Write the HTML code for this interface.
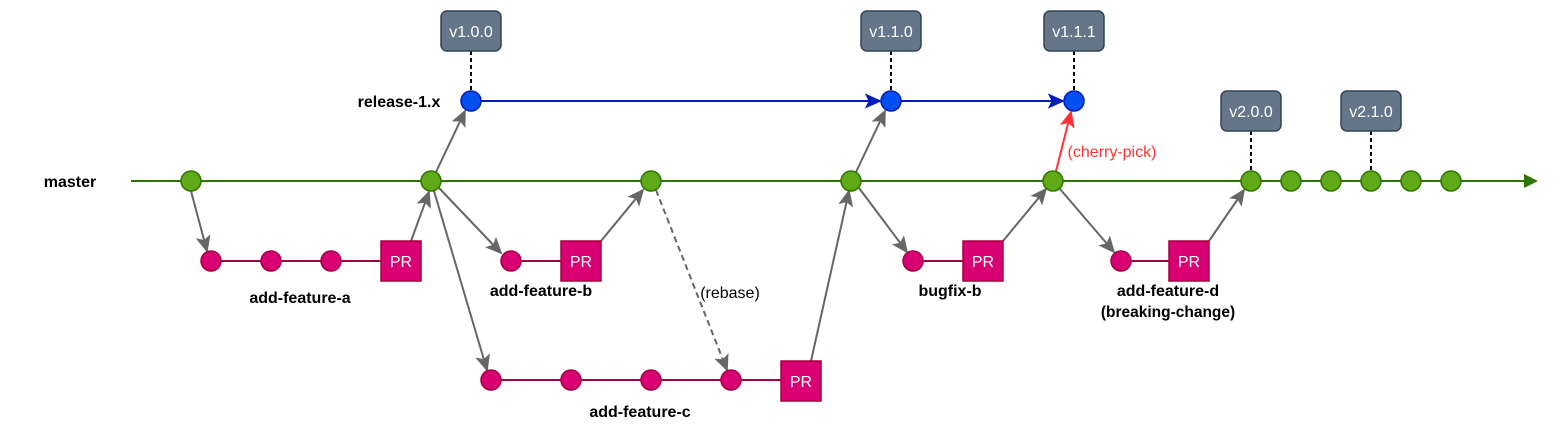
<!DOCTYPE html>
<html><head><meta charset="utf-8"><style>
html,body{margin:0;padding:0;background:#fff;}
svg{display:block;}
text{font-family:"Liberation Sans",Arial,sans-serif;}
.lbl{font-size:16px;font-weight:bold;fill:#000;text-anchor:middle;}
.tag{fill:#647687;stroke:#314354;stroke-width:1.5;}
.tagt{font-size:16px;fill:#fff;text-anchor:middle;}
.g{fill:#60a917;stroke:#2d7600;stroke-width:1.5;}
.b{fill:#0050ef;stroke:#001dbc;stroke-width:1.5;}
.p{fill:#d80073;stroke:#a50040;stroke-width:1.5;}
.pr{font-size:16px;fill:#fff;text-anchor:middle;}
.arr{stroke:#666;stroke-width:2;fill:none;marker-end:url(#ga);}
</style></head><body>
<svg width="1568" height="442" viewBox="0 0 1568 442" xmlns="http://www.w3.org/2000/svg">
<defs>
<marker id="ga" viewBox="0 0 10 10" refX="9" refY="5" markerWidth="19" markerHeight="19" markerUnits="userSpaceOnUse" orient="auto">
<path d="M1,1 L10,5 L1,9 L3,5 z" fill="#666"/></marker>
<marker id="ra" viewBox="0 0 10 10" refX="9" refY="5" markerWidth="19" markerHeight="19" markerUnits="userSpaceOnUse" orient="auto">
<path d="M1,1 L10,5 L1,9 L3,5 z" fill="#ff3333"/></marker>
<marker id="ba" viewBox="0 0 10 10" refX="9" refY="5" markerWidth="19" markerHeight="19" markerUnits="userSpaceOnUse" orient="auto">
<path d="M1,1 L10,5 L1,9 L3,5 z" fill="#001dbc"/></marker>
</defs>

<line x1="131" y1="181" x2="1524" y2="181" stroke="#2d7600" stroke-width="2"/>
<polygon points="1524,174 1538,181 1524,188" fill="#2d7600"/>

<line x1="481" y1="101" x2="880" y2="101" stroke="#001dbc" stroke-width="2" marker-end="url(#ba)"/>
<line x1="901" y1="101" x2="1063" y2="101" stroke="#001dbc" stroke-width="2" marker-end="url(#ba)"/>

<g stroke="#000" stroke-width="2" stroke-dasharray="4,3">
<line x1="471" y1="51" x2="471" y2="91"/>
<line x1="891" y1="51" x2="891" y2="91"/>
<line x1="1074" y1="51" x2="1074" y2="91"/>
<line x1="1251" y1="131" x2="1251" y2="171"/>
<line x1="1371" y1="131" x2="1371" y2="171"/>
</g>

<rect class="tag" x="441" y="11" width="60" height="40" rx="6"/><text class="tagt" x="471" y="37">v1.0.0</text>
<rect class="tag" x="861" y="11" width="60" height="40" rx="6"/><text class="tagt" x="891" y="37">v1.1.0</text>
<rect class="tag" x="1044" y="11" width="60" height="40" rx="6"/><text class="tagt" x="1074" y="37">v1.1.1</text>
<rect class="tag" x="1221" y="91" width="60" height="40" rx="6"/><text class="tagt" x="1251" y="117">v2.0.0</text>
<rect class="tag" x="1341" y="91" width="60" height="40" rx="6"/><text class="tagt" x="1371" y="117">v2.1.0</text>

<g stroke="#a50040" stroke-width="2">
<line x1="211" y1="261" x2="381" y2="261"/>
<line x1="511" y1="261" x2="561" y2="261"/>
<line x1="491" y1="380" x2="781" y2="380"/>
<line x1="913" y1="261" x2="963" y2="261"/>
<line x1="1121" y1="261" x2="1169" y2="261"/>
</g>

<line class="arr" x1="191" y1="191" x2="207" y2="251"/>
<line class="arr" x1="411" y1="241" x2="429" y2="192"/>
<line class="arr" x1="436" y1="172" x2="465" y2="111"/>
<line class="arr" x1="439" y1="188" x2="501" y2="253"/>
<line class="arr" x1="601" y1="241" x2="643" y2="190"/>
<line class="arr" x1="434" y1="191" x2="487" y2="370"/>
<line class="arr" x1="656" y1="190" x2="727" y2="370" stroke-dasharray="6,4"/>
<line class="arr" x1="811" y1="361" x2="849" y2="191"/>
<line class="arr" x1="856" y1="172" x2="885" y2="111"/>
<line class="arr" x1="859" y1="188" x2="907" y2="252"/>
<line class="arr" x1="1003" y1="241" x2="1046" y2="189"/>
<line class="arr" x1="1060" y1="189" x2="1114" y2="252"/>
<line class="arr" x1="1209" y1="241" x2="1244" y2="190"/>
<line x1="1056" y1="171" x2="1071" y2="112" stroke="#ff3333" stroke-width="2" marker-end="url(#ra)"/>

<circle class="g" cx="191" cy="181" r="10"/>
<circle class="g" cx="431" cy="181" r="10"/>
<circle class="g" cx="651" cy="181" r="10"/>
<circle class="g" cx="851" cy="181" r="10"/>
<circle class="g" cx="1053" cy="181" r="10"/>
<circle class="g" cx="1251" cy="181" r="10"/>
<circle class="g" cx="1291" cy="181" r="10"/>
<circle class="g" cx="1331" cy="181" r="10"/>
<circle class="g" cx="1371" cy="181" r="10"/>
<circle class="g" cx="1411" cy="181" r="10"/>
<circle class="g" cx="1451" cy="181" r="10"/>
<circle class="b" cx="471" cy="101" r="10"/>
<circle class="b" cx="891" cy="101" r="10"/>
<circle class="b" cx="1074" cy="101" r="10"/>

<circle class="p" cx="211" cy="261" r="10"/>
<circle class="p" cx="271" cy="261" r="10"/>
<circle class="p" cx="331" cy="261" r="10"/>
<circle class="p" cx="511" cy="261" r="10"/>
<circle class="p" cx="491" cy="380" r="10"/>
<circle class="p" cx="571" cy="380" r="10"/>
<circle class="p" cx="651" cy="380" r="10"/>
<circle class="p" cx="731" cy="380" r="10"/>
<circle class="p" cx="913" cy="261" r="10"/>
<circle class="p" cx="1121" cy="261" r="10"/>

<rect class="p" x="381" y="241" width="40" height="40"/><text class="pr" x="401" y="267">PR</text>
<rect class="p" x="561" y="241" width="40" height="40"/><text class="pr" x="581" y="267">PR</text>
<rect class="p" x="781" y="361" width="40" height="40"/><text class="pr" x="801" y="387">PR</text>
<rect class="p" x="963" y="241" width="40" height="40"/><text class="pr" x="983" y="267">PR</text>
<rect class="p" x="1169" y="241" width="40" height="40"/><text class="pr" x="1189" y="267">PR</text>

<text class="lbl" x="70" y="187">master</text>
<text class="lbl" x="399" y="107">release-1.x</text>
<text class="lbl" x="300" y="303">add-feature-a</text>
<text class="lbl" x="541" y="296">add-feature-b</text>
<text class="lbl" x="640" y="417">add-feature-c</text>
<text class="lbl" x="950" y="296">bugfix-b</text>
<text class="lbl" x="1168" y="296">add-feature-d</text>
<text class="lbl" x="1168" y="317" style="font-size:15.5px">(breaking-change)</text>
<text x="730" y="298" font-size="16" fill="#000" text-anchor="middle">(rebase)</text>
<text x="1112" y="157" font-size="16" fill="#ff3333" text-anchor="middle">(cherry-pick)</text>
</svg>
</body></html>
